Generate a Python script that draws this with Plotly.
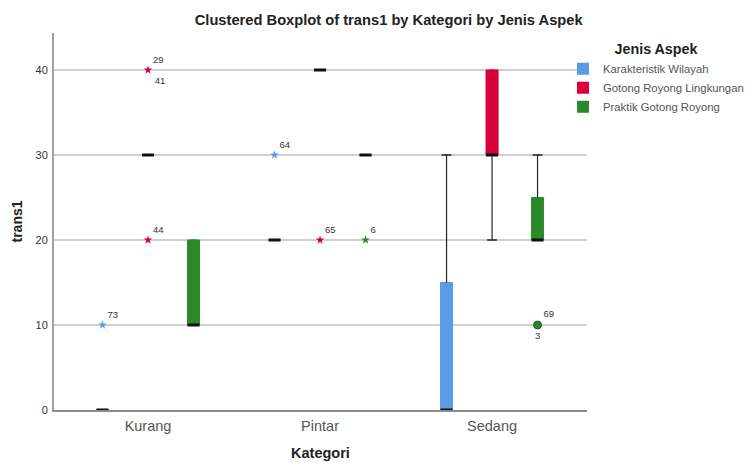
import plotly.graph_objects as go

# ---------------- data ----------------
categories = ["Kurang", "Pintar", "Sedang"]
series_names = ["Karakteristik Wilayah", "Gotong Royong Lingkungan", "Praktik Gotong Royong"]
series_colors = ["#5A9BE6", "#D9003A", "#2A8A2A"]

# box statistics per series, one value per category
kw_q1 = [0, 20, 0]
kw_median = [0, 20, 0]
kw_q3 = [0, 20, 15]
kw_lower = [0, 20, 0]
kw_upper = [0, 20, 30]

grl_q1 = [30, 40, 30]
grl_median = [30, 40, 30]
grl_q3 = [30, 40, 40]
grl_lower = [30, 40, 20]
grl_upper = [30, 40, 40]

pgr_q1 = [10, 30, 20]
pgr_median = [10, 30, 20]
pgr_q3 = [20, 30, 25]
pgr_lower = [10, 30, 20]
pgr_upper = [20, 30, 30]

# outliers / extremes
out_series = [0, 0, 1, 1, 1, 2, 2]
out_category = ["Kurang", "Pintar", "Kurang", "Kurang", "Pintar", "Pintar", "Sedang"]
out_value = [10, 30, 40, 20, 20, 20, 10]
out_label_top = ["73", "64", "29", "44", "65", "6", "69"]
out_label_bottom = ["", "", "41", "", "", "", "3"]
out_extreme = [True, True, True, True, True, True, False]

y_ticks = [0, 10, 20, 30, 40]

# ---------------- styling ----------------
FONT = "Liberation Sans, Arial, sans-serif"
group_offset = [-0.2645, 0.0, 0.2645]
box_width = 0.07

stats = [
    (kw_q1, kw_median, kw_q3, kw_lower, kw_upper),
    (grl_q1, grl_median, grl_q3, grl_lower, grl_upper),
    (pgr_q1, pgr_median, pgr_q3, pgr_lower, pgr_upper),
]

fig = go.Figure()
cat_index = {c: i for i, c in enumerate(categories)}

for s, (q1, med, q3, lo, hi) in enumerate(stats):
    xs = [i + group_offset[s] for i in range(len(categories))]
    color = series_colors[s]
    # box body (no whiskers)
    fig.add_trace(go.Box(
        x=xs, q1=q1, median=q1, q3=q3, lowerfence=q1, upperfence=q3,
        width=box_width, fillcolor=color, line=dict(color=color, width=1),
        showlegend=False, hoverinfo="skip", boxpoints=False,
    ))
    # whiskers
    wx, wy = [], []
    cx, cy = [], []
    for i in range(len(categories)):
        if hi[i] > q3[i]:
            wx += [xs[i], xs[i], None]
            wy += [q3[i], hi[i], None]
            cx.append(xs[i]); cy.append(hi[i])
        if lo[i] < q1[i]:
            wx += [xs[i], xs[i], None]
            wy += [q1[i], lo[i], None]
            cx.append(xs[i]); cy.append(lo[i])
    if wx:
        fig.add_trace(go.Scatter(
            x=wx, y=wy, mode="lines", line=dict(color="#222222", width=1.2),
            showlegend=False, hoverinfo="skip",
        ))
        fig.add_trace(go.Scatter(
            x=cx, y=cy, mode="markers",
            marker=dict(symbol="line-ew", size=7, line=dict(color="#222222", width=1.5)),
            showlegend=False, hoverinfo="skip",
        ))
    # median line
    fig.add_trace(go.Box(
        x=xs, q1=med, median=med, q3=med, lowerfence=med, upperfence=med,
        width=box_width, fillcolor="rgba(0,0,0,0)", line=dict(color="#111111", width=3),
        showlegend=False, hoverinfo="skip", boxpoints=False,
    ))

# outliers
for s in range(len(series_names)):
    for kind in (True, False):
        idx = [k for k in range(len(out_value)) if out_series[k] == s and out_extreme[k] == kind]
        if not idx:
            continue
        xs = [cat_index[out_category[k]] + group_offset[s] for k in idx]
        ys = [out_value[k] for k in idx]
        if kind:
            marker = dict(symbol="star", size=6.5, color=series_colors[s], line=dict(width=0))
        else:
            marker = dict(symbol="circle", size=8, color=series_colors[s],
                          line=dict(color="#1a3d1a", width=0.8))
        fig.add_trace(go.Scatter(
            x=xs, y=ys, mode="markers+text", marker=marker,
            text=[out_label_top[k] for k in idx], textposition="top right",
            textfont=dict(family=FONT, size=9.5, color="#333333"),
            showlegend=False, hoverinfo="skip", cliponaxis=False,
        ))
        fig.add_trace(go.Scatter(
            x=xs, y=ys, mode="markers+text",
            marker=dict(size=9, opacity=0),
            text=[out_label_bottom[k] for k in idx],
            textposition="bottom right" if kind else "bottom center",
            textfont=dict(family=FONT, size=9.5, color="#333333"),
            showlegend=False, hoverinfo="skip", cliponaxis=False,
        ))

# legend entries
for s, name in enumerate(series_names):
    fig.add_trace(go.Scatter(
        x=[None], y=[None], mode="markers", name=name,
        marker=dict(symbol="square", size=11, color=series_colors[s]),
    ))

# page body has an 8px margin: figure is placed at (8, 8) in the window
fig.update_layout(
    width=745, height=458,
    margin=dict(l=46, r=166, t=25, b=56, autoexpand=False),
    paper_bgcolor="white", plot_bgcolor="white",
    font=dict(family=FONT, color="#333333"),
    title=dict(
        text="<b>Clustered Boxplot of trans1 by Kategori by Jenis Aspek</b>",
        x=0.511, xanchor="center", y=0.974, yanchor="middle",
        font=dict(family=FONT, size=14.7, color="#222222"),
    ),
    showlegend=True,
    legend=dict(
        x=0.955, xanchor="left", y=0.993, yanchor="top",
        title=dict(text="<b>Jenis Aspek</b>", side="top center",
                   font=dict(family=FONT, size=14.3, color="#222222")),
        font=dict(family=FONT, size=11.3, color="#555555"),
        bgcolor="rgba(0,0,0,0)", tracegroupgap=0, itemsizing="constant",
    ),
    boxmode="overlay",
)

fig.update_xaxes(
    range=[-0.5465, 2.552], tickvals=list(range(len(categories))), ticktext=categories,
    showgrid=False, zeroline=False, showline=True, linecolor="#8c8c8c", linewidth=2,
    ticks="outside", ticklen=2, tickcolor="rgba(0,0,0,0)",
    tickfont=dict(family=FONT, size=14.5, color="#555555"),
    title=dict(text="<b>Kategori</b>", standoff=14, font=dict(family=FONT, size=14.5, color="#222222")),
)
fig.update_yaxes(
    range=[0, 44.35], tickvals=y_ticks,
    showgrid=True, gridcolor="#cfcfcf", gridwidth=1.5, zeroline=False,
    showline=True, linecolor="#a0a0a0", linewidth=2,
    ticks="outside", ticklen=2, tickcolor="rgba(0,0,0,0)",
    tickfont=dict(family=FONT, size=11, color="#333333"),
    title=dict(text="<b>trans1</b>", standoff=10, font=dict(family=FONT, size=14, color="#222222")),
)

fig.write_html("out.html")
